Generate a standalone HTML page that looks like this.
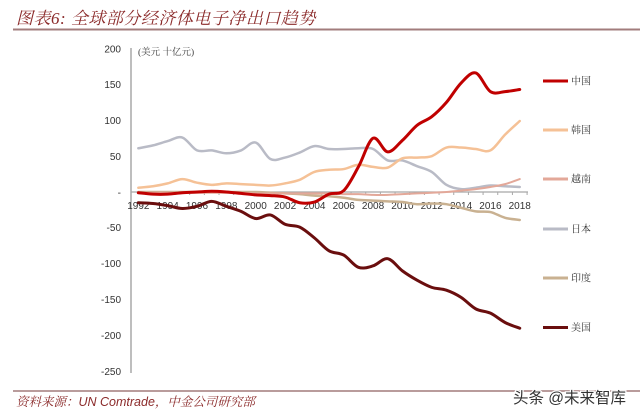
<!DOCTYPE html>
<html><head><meta charset="utf-8">
<style>
html,body{margin:0;padding:0;background:#fff;}
body{width:640px;height:419px;overflow:hidden;position:relative;}
svg{position:absolute;left:0;top:0;}
</style></head>
<body>
<svg id="c" width="640" height="419" viewBox="0 0 640 419" xmlns="http://www.w3.org/2000/svg">
  <text x="16" y="24" font-family="'Liberation Serif','Noto Serif CJK SC',serif" font-style="italic" font-size="17" fill="#8B2A2A" letter-spacing="0.5">图表6: 全球部分经济体电子净出口趋势</text>
  <line x1="13" y1="29.5" x2="640" y2="29.5" stroke="#A27C7C" stroke-width="2"/>
  <g font-family="'Liberation Sans',sans-serif" font-size="10" fill="#333" text-anchor="end">
    <text x="121" y="52.5">200</text>
    <text x="121" y="88">150</text>
    <text x="121" y="124">100</text>
    <text x="121" y="160">50</text>
    <text x="121" y="196">-</text>
    <text x="121" y="231">-50</text>
    <text x="121" y="267">-100</text>
    <text x="121" y="303">-150</text>
    <text x="121" y="339">-200</text>
    <text x="121" y="375">-250</text>
  </g>
  <text x="138" y="55" font-family="'Liberation Serif','Noto Serif CJK SC',serif" font-size="9.5" fill="#444">(美元 十亿元)</text>
  <line x1="131" y1="48" x2="131" y2="373" stroke="#A8A8A8" stroke-width="1.5"/>
  <line x1="131" y1="192" x2="528" y2="192" stroke="#A8A8A8" stroke-width="1.2"/>
  <g id="ticks" stroke="#A8A8A8" stroke-width="1"></g>
  <g id="xl" font-family="'Liberation Sans',sans-serif" font-size="10" fill="#333" text-anchor="middle"></g>
  <g id="lines" fill="none" stroke-linecap="round" stroke-linejoin="round"></g>
  <g font-family="'Liberation Serif','Noto Serif CJK SC',serif" font-size="10" fill="#333">
    <line x1="543" y1="81" x2="568" y2="81" stroke="#C00000" stroke-width="3"/>
    <text x="571" y="84.5">中国</text>
    <line x1="543" y1="130" x2="568" y2="130" stroke="#F5C196" stroke-width="3"/>
    <text x="571" y="133.5">韩国</text>
    <line x1="543" y1="179" x2="568" y2="179" stroke="#E3A899" stroke-width="3"/>
    <text x="571" y="182.5">越南</text>
    <line x1="543" y1="229" x2="568" y2="229" stroke="#B9BBC6" stroke-width="3"/>
    <text x="571" y="232.5">日本</text>
    <line x1="543" y1="278" x2="568" y2="278" stroke="#C9B191" stroke-width="3"/>
    <text x="571" y="281.5">印度</text>
    <line x1="543" y1="327.5" x2="568" y2="327.5" stroke="#6A0E0E" stroke-width="3"/>
    <text x="571" y="331">美国</text>
  </g>
  <line x1="13" y1="391" x2="640" y2="391" stroke="#A27C7C" stroke-width="1.5"/>
  <text x="16" y="406" font-family="'Liberation Sans','Noto Serif CJK SC',sans-serif" font-style="italic" font-size="12.5" fill="#8B2A2A">资料来源：UN Comtrade，中金公司研究部</text>
  <text x="513" y="403" font-family="'Liberation Sans','Noto Sans CJK SC',sans-serif" font-size="15.5" fill="#333" stroke="#fff" stroke-width="2.5" paint-order="stroke">头条 @未来智库</text>
</svg>
<script>
(function(){
  var NS="http://www.w3.org/2000/svg";
  var x0=131, w=14.67, y0=192, s=0.717;
  function X(i){return x0+w*(i+0.5);}
  function Y(v){return y0-v*s;}
  var ticks=document.getElementById('ticks');
  for(var i=0;i<=27;i++){
    var l=document.createElementNS(NS,'line');
    var xx=x0+w*i;
    l.setAttribute('x1',xx);l.setAttribute('x2',xx);
    l.setAttribute('y1',192);l.setAttribute('y2',195);
    ticks.appendChild(l);
  }
  var xl=document.getElementById('xl');
  for(var i=0;i<27;i+=2){
    var t=document.createElementNS(NS,'text');
    t.setAttribute('x',X(i));t.setAttribute('y',209);
    t.textContent=String(1992+i);
    xl.appendChild(t);
  }
  var series=[
    ['#B9BBC6',2.5,[61,65,71,76,58,58,54,58,69,46,48,55,64,60,60,61,60,44,44,36,28,10,4,6,9,8,7]],
    ['#F5C196',2.5,[6,8,12,18,13,10,12,11,10,9,12,17,28,31,32,38,35,34,47,48,50,62,62,60,58,80,99]],
    ['#C9B191',2.5,[0,0,0,0,0,0,0,0,0,-1,-2,-3,-5,-6,-8,-11,-12,-13,-14,-17,-16,-17,-22,-27,-28,-36,-39]],
    ['#E3A899',2,[-1,-1,-1,-1,-1,-1,-1,-1,-2,-2,-2,-2,-2,-2,-3,-3,-4,-4,-3,-2,-1,0,2,4,7,11,18]],
    ['#C00000',3,[-1,-3,-3,-1,0,1,0,-2,-4,-5,-7,-15,-14,-3,2,35,75,56,72,93,105,125,152,166,140,140,143]],
    ['#6A0E0E',3,[-15,-16,-19,-23,-20,-13,-20,-27,-37,-32,-45,-49,-64,-82,-88,-105,-103,-93,-110,-123,-133,-137,-147,-163,-169,-182,-190]]
  ];
  var g=document.getElementById('lines');
  series.forEach(function(sr){
    var d=sr[2], p=d.map(function(v,i){return [X(i),Y(v)];});
    var path='M'+p[0][0].toFixed(2)+','+p[0][1].toFixed(2);
    var k=1/6;
    for(var i=0;i<p.length-1;i++){
      var p0=p[i-1]||p[i], p1=p[i], p2=p[i+1], p3=p[i+2]||p[i+1];
      var c1x=p1[0]+(p2[0]-p0[0])*k, c1y=p1[1]+(p2[1]-p0[1])*k;
      var c2x=p2[0]-(p3[0]-p1[0])*k, c2y=p2[1]-(p3[1]-p1[1])*k;
      path+=' C'+c1x.toFixed(2)+','+c1y.toFixed(2)+' '+c2x.toFixed(2)+','+c2y.toFixed(2)+' '+p2[0].toFixed(2)+','+p2[1].toFixed(2);
    }
    var e=document.createElementNS(NS,'path');
    e.setAttribute('d',path);e.setAttribute('stroke',sr[0]);e.setAttribute('stroke-width',sr[1]);
    g.appendChild(e);
  });
})();
</script>
</body></html>
